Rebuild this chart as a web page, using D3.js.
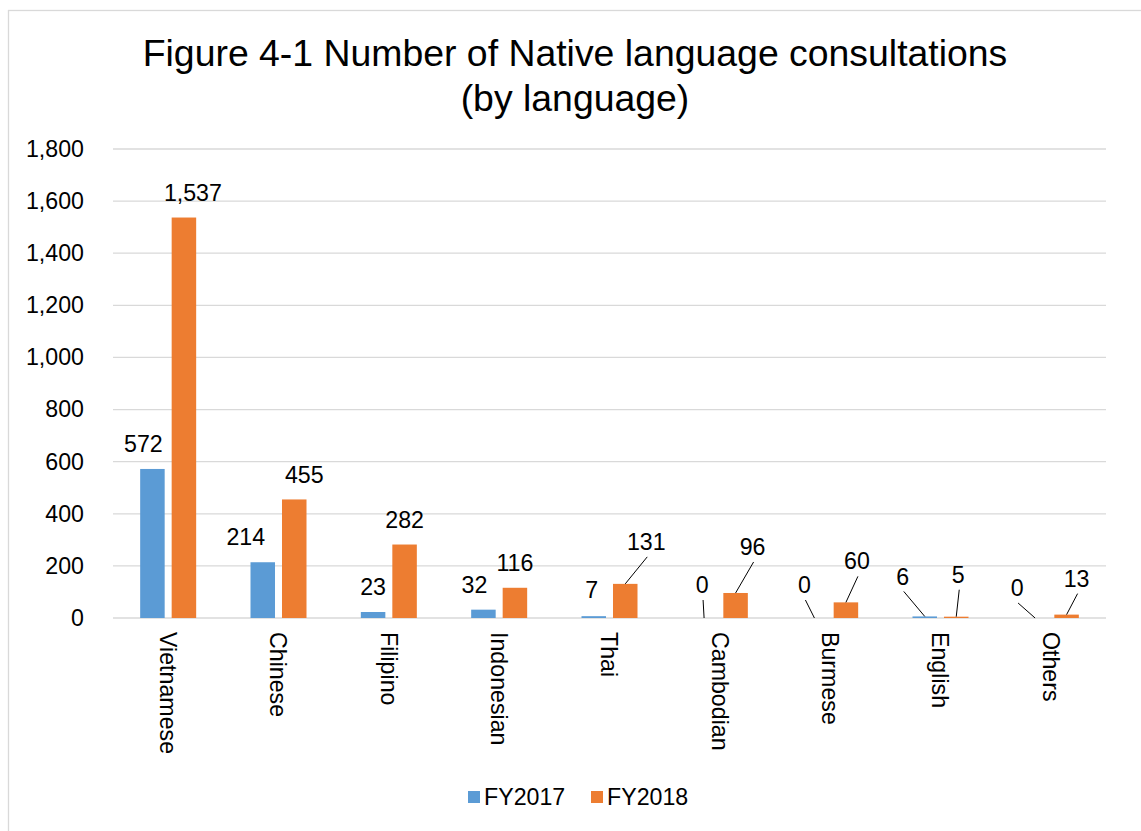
<!DOCTYPE html>
<html>
<head>
  <title>Native language consultations</title>
  <script src="https://cdn.jsdelivr.net/npm/d3@7"></script>
  <style>
    body { margin: 0; background: #fff; }
    text { font-family: "Liberation Sans", Arial, sans-serif; fill: #000; }
  </style>
</head>
<body>
  <div id="chart"></div>
  <script>
    // Chart data
    const categories = ["Vietnamese", "Chinese", "Filipino", "Indonesian", "Thai", "Cambodian", "Burmese", "English", "Others"];
    const seriesNames = ["FY2017", "FY2018"];
    const fy2017 = [572, 214, 23, 32, 7, 0, 0, 6, 0];
    const fy2018 = [1537, 455, 282, 116, 131, 96, 60, 5, 13];
    const yTicks = [0, 200, 400, 600, 800, 1000, 1200, 1400, 1600, 1800];

    // Manually moved data labels (offset from the bar top centre), and which ones get a leader line
    const labelDx2017 = [-9, -17, 0, -9, -2, -2, -10, -22, -18];
    const labelUp2017 = [25, 25, 25, 25, 26, 33, 33, 40, 30];
    const leader2017 = [false, false, false, false, false, true, true, true, true];
    const labelDx2018 = [9, 10, 0, 0, 21, 17, 11, 2, 10];
    const labelUp2018 = [25, 25, 25, 25, 42, 46, 41, 42, 36];
    const leader2018 = [false, false, false, false, true, true, true, true, true];

    const colors = ["#5b9bd5", "#ed7d31"];
    const width = 1141, height = 831;
    const plot = { left: 113, right: 1106, top: 149, bottom: 618 };
    const fontSize = 23.2;

    const svg = d3.select("#chart").append("svg")
        .attr("width", width)
        .attr("height", height);

    // outer chart border
    svg.append("rect")
        .attr("x", 8.5).attr("y", 10.5)
        .attr("width", 1200).attr("height", 900)
        .attr("fill", "none")
        .attr("stroke", "#d9d9d9")
        .attr("stroke-width", 1.3);

    // title
    const title = svg.append("text")
        .attr("text-anchor", "middle")
        .style("font-size", "37.4px");
    title.append("tspan").attr("x", 575).attr("y", 66).text("Figure 4-1 Number of Native language consultations");
    title.append("tspan").attr("x", 575).attr("y", 111).text("(by language)");

    // scales
    const x0 = d3.scaleBand()
        .domain(categories)
        .range([plot.left, plot.right])
        .padding(0);

    const x1 = d3.scaleBand()
        .domain(seriesNames)
        .range([-28, 28])
        .paddingInner(0.222);

    const y = d3.scaleLinear()
        .domain([0, 1800])
        .range([plot.bottom, plot.top]);

    // gridlines
    svg.append("g")
        .selectAll("line")
        .data(yTicks)
        .enter().append("line")
        .attr("x1", plot.left).attr("x2", plot.right)
        .attr("y1", d => y(d)).attr("y2", d => y(d))
        .attr("stroke", "#d9d9d9")
        .attr("stroke-width", 1.3);

    // y axis labels
    const yAxis = svg.append("g")
        .attr("transform", `translate(${plot.left},0)`)
        .call(d3.axisLeft(y).tickValues(yTicks).tickFormat(d3.format(",")).tickSize(0).tickPadding(29));
    yAxis.select(".domain").remove();
    yAxis.selectAll("text")
        .style("font-size", fontSize + "px")
        .style("font-family", "'Liberation Sans', Arial, sans-serif")
        .attr("fill", "#000");

    // x axis labels (rotated)
    const xAxis = svg.append("g")
        .attr("transform", `translate(0,${plot.bottom})`)
        .call(d3.axisBottom(x0).tickSize(0).tickPadding(0));
    xAxis.select(".domain").remove();
    xAxis.selectAll("text")
        .style("font-size", fontSize + "px")
        .style("font-family", "'Liberation Sans', Arial, sans-serif")
        .attr("fill", "#000")
        .style("text-anchor", "start")
        .attr("x", 14)
        .attr("y", 0)
        .attr("dy", "0.35em")
        .attr("transform", "rotate(90)");

    // bars
    const seriesData = [
      { name: "FY2017", values: fy2017, dx: labelDx2017, up: labelUp2017, leader: leader2017 },
      { name: "FY2018", values: fy2018, dx: labelDx2018, up: labelUp2018, leader: leader2018 }
    ];

    seriesData.forEach((s, si) => {
      const rows = categories.map((c, i) => ({
        cat: c,
        value: s.values[i],
        cx: x0(c) + x0.bandwidth() / 2 + x1(s.name) + x1.bandwidth() / 2,
        dx: s.dx[i],
        up: s.up[i],
        leader: s.leader[i]
      }));

      svg.append("g").selectAll("rect")
          .data(rows)
          .enter().append("rect")
          .attr("x", d => x0(d.cat) + x0.bandwidth() / 2 + x1(s.name))
          .attr("y", d => y(d.value))
          .attr("width", x1.bandwidth())
          .attr("height", d => y(0) - y(d.value))
          .attr("fill", colors[si]);

      // leader lines
      svg.append("g").selectAll("line")
          .data(rows.filter(d => d.leader))
          .enter().append("line")
          .attr("x1", d => d.cx + d.dx + 1)
          .attr("y1", d => y(d.value) - d.up + 15)
          .attr("x2", d => d.cx)
          .attr("y2", d => y(d.value))
          .attr("stroke", "#000")
          .attr("stroke-width", 1);

      // data labels
      svg.append("g").selectAll("text")
          .data(rows)
          .enter().append("text")
          .attr("x", d => d.cx + d.dx)
          .attr("y", d => y(d.value) - d.up)
          .attr("dy", "0.35em")
          .attr("text-anchor", "middle")
          .style("font-size", fontSize + "px")
          .text(d => d3.format(",")(d.value));
    });

    // legend
    const legend = svg.append("g").attr("transform", "translate(468,797)");
    const legendX = [0, 123];
    seriesNames.forEach((name, i) => {
      const g = legend.append("g").attr("transform", `translate(${legendX[i]},0)`);
      g.append("rect")
          .attr("x", 0).attr("y", -6)
          .attr("width", 12).attr("height", 12)
          .attr("fill", colors[i]);
      g.append("text")
          .attr("x", 16).attr("y", 0)
          .attr("dy", "0.35em")
          .style("font-size", fontSize + "px")
          .text(name);
    });
  </script>
</body>
</html>
